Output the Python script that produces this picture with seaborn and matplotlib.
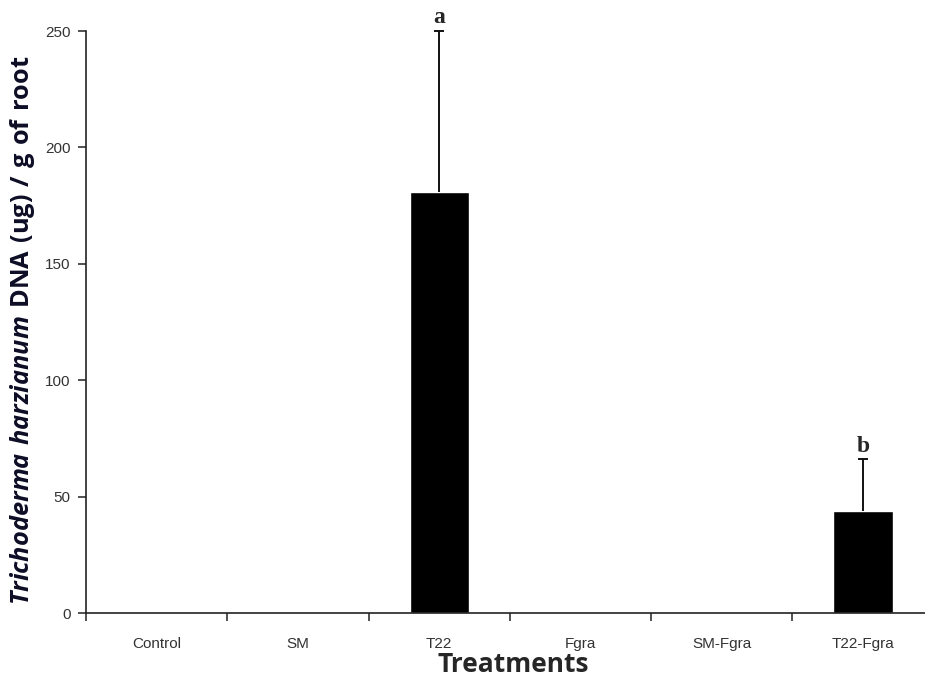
"""Bar chart of Trichoderma harzianum DNA per gram of root by treatment."""

import numpy as np
import pandas as pd
import seaborn as sns
import matplotlib.pyplot as plt

treatments = ["Control", "SM", "T22", "Fgra", "SM-Fgra", "T22-Fgra"]
dna_means = [0, 0, 181, 0, 0, 44]
dna_err_upper = [0, 0, 69, 0, 0, 22]
letters = ["", "", "a", "", "", "b"]


def main() -> None:
    sns.set_style("ticks")
    plt.rcParams["font.family"] = ["Liberation Sans", "DejaVu Sans"]
    plt.rcParams["mathtext.fontset"] = "custom"
    plt.rcParams["mathtext.rm"] = "Open Sans:bold"
    plt.rcParams["mathtext.bfit"] = "Open Sans:italic:bold"

    df = pd.DataFrame({"Treatment": treatments, "DNA": dna_means})

    fig = plt.figure(figsize=(9.25, 6.82), dpi=100)
    ax = fig.add_axes([0.093, 0.101, 0.924, 0.8535])

    sns.barplot(data=df, x="Treatment", y="DNA", color="black",
                width=0.42, saturation=1, ax=ax, errorbar=None)

    # upward-only error bars with letters above
    xs = np.arange(len(treatments))
    for x, m, e, lab in zip(xs, dna_means, dna_err_upper, letters):
        if m <= 0:
            continue
        _, caps, _ = ax.errorbar(x, m, yerr=[[0], [e]], fmt="none",
                                 ecolor="#111111", elinewidth=1.4,
                                 capsize=3.5, capthick=1.4, clip_on=False)
        caps[0].set_visible(False)
        ax.text(x, m + e + 3.3, lab, ha="center", va="baseline",
                fontsize=17, fontweight="bold", family="Liberation Serif")

    ax.set_ylim(0, 250)
    ax.set_xlim(-0.5, 5.55)
    ax.set_yticks([0, 50, 100, 150, 200, 250])
    ax.tick_params(axis="y", labelsize=11, labelcolor="#333333",
                   length=6, width=1.1, color="#222222", pad=5)

    # category labels at centres, ticks at boundaries
    ax.set_xticks(xs)
    ax.set_xticklabels(treatments)
    ax.tick_params(axis="x", which="major", length=0, pad=17,
                   labelsize=11, labelcolor="#333333")
    ax.set_xticks(np.arange(-0.5, len(treatments)), minor=True)
    ax.tick_params(axis="x", which="minor", length=6, width=1.1,
                   color="#222222")

    sns.despine(ax=ax)
    for side in ["left", "bottom"]:
        ax.spines[side].set_linewidth(1.2)
        ax.spines[side].set_color("#222222")

    ax.set_xlabel("Treatments", fontsize=19, fontweight="bold",
                  family="Open Sans", labelpad=0)
    ax.set_ylabel(r"$\mathbfit{Trichoderma\ harzianum}\ \mathrm{DNA\ (ug)\ /\ g\ of\ root}$",
                  fontsize=18.3, color="#0d0d26")
    ax.yaxis.set_label_coords(-0.057, 0.486)

    fig.savefig("out.png", dpi=100)
    plt.close(fig)


if __name__ == "__main__":
    main()
